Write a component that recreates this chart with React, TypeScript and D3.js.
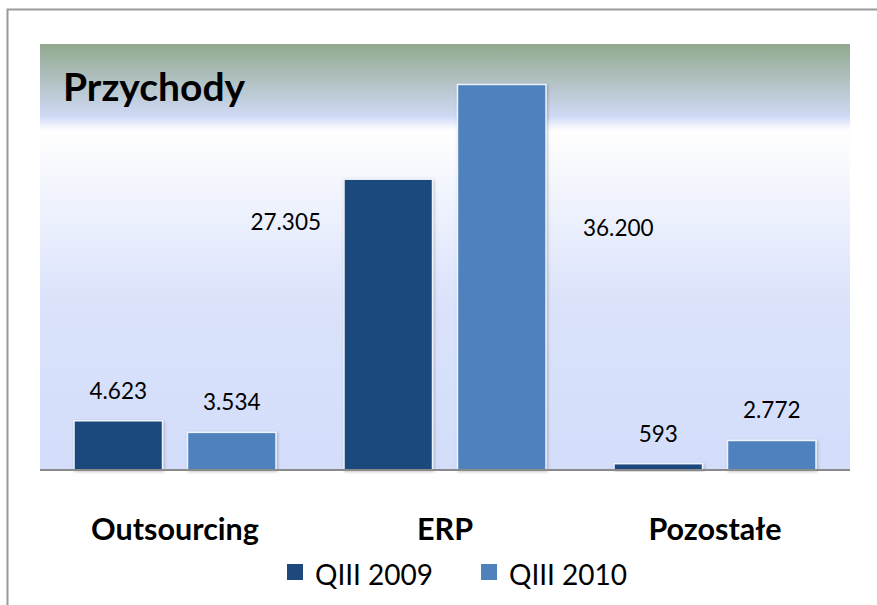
import * as d3 from 'd3';

const categories = ['Outsourcing', 'ERP', 'Pozostałe'];
const seriesNames = ['QIII 2009', 'QIII 2010'];
const values2009 = [4623, 27305, 593];
const values2010 = [3534, 36200, 2772];
const valueLabels2009 = ['4.623', '27.305', '593'];
const valueLabels2010 = ['3.534', '36.200', '2.772'];
const colors = ['#1F497D', '#4F81BD'];

const width = 877;
const height = 605;
const plot = { left: 40, right: 850, top: 44, bottom: 470 };
const font = 'Lato, "Open Sans", sans-serif';

const App = () => {
  const xScale = d3.scaleBand().domain(categories).range([plot.left, plot.right]).padding(0);
  const inner = d3
    .scaleBand()
    .domain(seriesNames)
    .range([34, xScale.bandwidth() - 34])
    .paddingInner(0.22)
    .paddingOuter(0);
  const yScale = d3.scaleLinear().domain([0, 40000]).range([plot.bottom, plot.top]);

  const series = [values2009, values2010];
  const labels = [valueLabels2009, valueLabels2010];

  const bars = [];
  const texts = [];
  categories.forEach((cat, ci) => {
    seriesNames.forEach((s, si) => {
      const v = series[si][ci];
      const x = xScale(cat) + inner(s);
      const y = yScale(v);
      const w = inner.bandwidth();
      bars.push(
        <rect
          key={cat + s}
          x={x}
          y={y}
          width={w}
          height={plot.bottom - y}
          fill={colors[si]}
          stroke="#eef2fa"
          strokeWidth={1.5}
          filter="url(#barShadow)"
        />
      );
      // Excel pushed the tall ERP labels beside the bars
      let lx = x + w / 2;
      let ly = y - 22;
      let anchor = 'middle';
      if (cat === 'ERP') {
        if (si === 0) {
          lx = x - 23;
          ly = yScale(22500);
          anchor = 'end';
        } else {
          lx = x + w + 37;
          ly = yScale(22000);
          anchor = 'start';
        }
      }
      texts.push(
        <text key={'l' + cat + s} x={lx} y={ly} textAnchor={anchor} fontSize={22.5} fontFamily={font} fill="#000">
          {labels[si][ci]}
        </text>
      );
    });
  });

  const legendX = [287, 481];

  return (
    <svg width={width} height={height} style={{ position: 'absolute', left: 0, top: 0 }}>
      <defs>
        <linearGradient id="plotBg" x1="0" y1="0" x2="0" y2="1">
          <stop offset="0%" stopColor="#92a98f" />
          <stop offset="17%" stopColor="#cfd9f5" />
          <stop offset="19%" stopColor="#eef2fd" />
          <stop offset="20.5%" stopColor="#ffffff" />
          <stop offset="60%" stopColor="#dbe3fb" />
          <stop offset="100%" stopColor="#d3ddfa" />
        </linearGradient>
        <filter id="barShadow" x="-20%" y="-20%" width="140%" height="140%">
          <feDropShadow dx="1" dy="1" stdDeviation="1.5" floodColor="#000" floodOpacity="0.25" />
        </filter>
      </defs>
      <rect x={0} y={0} width={width} height={height} fill="#fff" />
      <path d={`M7.5,${height} V9.5 H${width}`} fill="none" stroke="#9a9a9a" strokeWidth={2} />
      <rect
        x={plot.left}
        y={plot.top}
        width={plot.right - plot.left}
        height={plot.bottom - plot.top}
        fill="url(#plotBg)"
      />
      <text x={63} y={101} fontSize={39} fontWeight="bold" fontFamily={font} fill="#000">
        Przychody
      </text>
      {bars}
      <line x1={plot.left} x2={plot.right} y1={plot.bottom} y2={plot.bottom} stroke="#8a8a8a" strokeWidth={2} />
      {texts}
      {categories.map((c) => (
        <text
          key={c}
          x={xScale(c) + xScale.bandwidth() / 2}
          y={540}
          textAnchor="middle"
          fontSize={30.5}
          fontWeight="bold"
          fontFamily={font}
          fill="#000"
        >
          {c}
        </text>
      ))}
      {seriesNames.map((s, i) => (
        <g key={s}>
          <rect x={legendX[i]} y={564} width={16} height={16} fill={colors[i]} />
          <text x={legendX[i] + 28} y={585} fontSize={28} fontFamily={font} fill="#000">
            {s}
          </text>
        </g>
      ))}
    </svg>
  );
};

export default App;
